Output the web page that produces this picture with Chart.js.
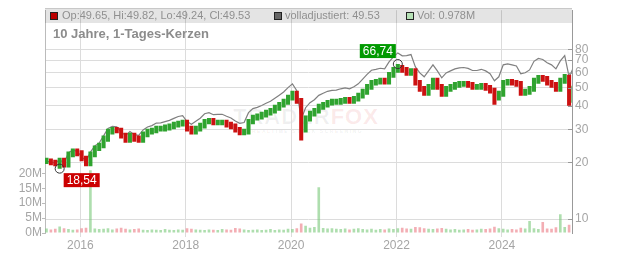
<!DOCTYPE html>
<html><head><meta charset="utf-8">
<script src="https://cdn.jsdelivr.net/npm/chart.js@4.4.1/dist/chart.umd.min.js"></script>
<style>
html,body{margin:0;padding:0;background:#fff;}
#wrap{position:relative;width:632px;height:253px;overflow:hidden;font-family:"Liberation Sans",Arial,sans-serif;background:#fff;}
canvas{position:absolute;left:0;top:0;}
.band{position:absolute;left:45px;top:8px;width:527px;height:15px;background:rgba(0,0,0,0.105);border-top:1px solid #c8c8c8;box-sizing:border-box;}
.lg{position:absolute;top:9px;font-size:11px;line-height:13px;color:#8f8f8f;white-space:nowrap;}
.sq{position:absolute;top:12px;width:8px;height:8px;box-sizing:border-box;border:1px solid #222;}
.title{position:absolute;left:53px;top:26px;font-size:13px;line-height:15px;font-weight:bold;color:#8c8c8c;white-space:nowrap;}
.wm{position:absolute;left:233px;top:104px;font-size:22px;font-weight:bold;letter-spacing:1px;white-space:nowrap;color:rgba(0,0,0,0.06);}
.wm span{color:rgba(220,40,40,0.10);}
.wm2{position:absolute;left:252px;top:128px;font-size:5px;font-weight:bold;letter-spacing:1.5px;white-space:nowrap;color:rgba(0,0,0,0.08);}
</style></head>
<body>
<div id="wrap">
  <div class="wm">TRADER<span>FOX</span></div>
  <div class="wm2">REALTIME STOCK SCREENING</div>
  <canvas id="c" width="632" height="253"></canvas>
  <div class="band"></div>
  <div class="sq" style="left:50px;background:#bb0000;"></div>
  <div class="lg" style="left:62px;">Op:49.65, Hi:49.82, Lo:49.24, Cl:49.53</div>
  <div class="sq" style="left:274px;background:#666;"></div>
  <div class="lg" style="left:285px;">volladjustiert: 49.53</div>
  <div class="sq" style="left:406px;background:#b5e0b5;"></div>
  <div class="lg" style="left:417px;">Vol: 0.978M</div>
  <div class="title">10 Jahre, 1-Tages-Kerzen</div>
</div>
<script>
// monthly series, first month May 2015
const firstYear = 2015, firstMonth = 5;
const closes = [20.3,20.0,19.8,20.5,19.5,22.1,22.9,22.4,21.0,19.8,22.1,23.8,24.6,26.8,29.2,29.9,29.6,27.8,26.5,27.8,
26.8,26.5,28.2,29.2,29.6,30.3,30.3,30.7,31.1,31.8,32.2,32.6,30.3,29.2,30.3,31.4,33.0,33.4,32.6,32.6,
32.6,31.8,31.1,29.9,28.9,29.2,33.0,34.6,35.1,35.9,36.8,37.7,39.1,40.6,42.1,44.2,46.4,42.6,29.9,34.2,
36.4,37.7,39.6,40.6,41.6,42.1,42.1,42.6,43.1,42.6,43.7,45.3,47.6,50.5,53.1,53.7,54.4,53.7,58.5,62.2,
65.3,62.2,60.0,61.4,53.1,49.3,47.0,50.5,54.4,50.5,46.4,49.3,50.5,51.8,52.4,52.4,51.8,50.5,50.5,51.2,
49.9,48.2,44.2,46.4,53.1,53.7,53.1,52.4,47.0,47.6,49.3,54.4,56.4,55.7,53.1,51.8,49.3,54.4,57.1,42.6,49.5];
const lows = [19.6,19.3,19.1,18.54,18.8,18.8,21.3,21.6,20.3,19.1,
19.1,21.3,23.0,23.8,25.8,28.2,28.6,26.8,25.5,25.5,
25.8,25.5,25.5,27.2,28.2,28.6,29.2,29.2,29.6,30.0,
30.7,31.1,29.2,28.2,28.2,29.2,30.3,31.9,31.5,31.5,
31.5,30.7,30.0,28.9,27.9,27.9,28.2,31.9,33.4,33.9,
34.7,35.5,36.4,37.7,39.2,40.6,42.7,41.1,26.2,28.9,
33.0,35.1,36.4,38.2,39.2,40.2,40.6,40.6,41.1,41.1,
41.1,42.2,43.8,45.9,48.7,51.3,51.9,51.9,51.9,56.4,
60.0,60.0,57.9,57.9,51.3,47.6,45.3,45.3,48.7,48.7,
44.7,44.7,47.6,48.7,50.0,50.6,50.0,48.7,48.7,48.7,
48.2,46.5,40.5,42.7,44.7,51.3,51.3,50.6,45.3,45.3,
45.9,47.6,52.5,53.8,51.3,50.0,47.6,47.6,52.5,40.0,41.6];
const highs = [21.2,21.0,20.7,21.2,21.2,22.9,23.7,23.7,23.2,21.7,
22.9,24.6,25.5,27.8,30.2,30.9,30.9,30.6,28.8,28.8,
28.8,27.8,29.2,30.2,30.6,31.4,31.4,31.8,32.2,32.9,
33.3,33.7,33.7,31.4,31.4,32.5,34.1,34.5,34.5,33.7,
33.7,33.7,32.9,32.2,30.9,30.2,34.1,35.9,36.4,37.2,
38.1,39.0,40.5,42.0,43.6,45.8,48.1,48.1,44.1,35.5,
37.7,39.0,41.0,42.0,43.0,43.6,43.6,44.1,44.6,44.6,
45.2,46.9,49.3,52.3,54.9,55.6,56.4,56.4,60.6,64.4,
66.74,66.0,64.4,63.5,63.5,54.9,51.0,52.3,56.4,56.4,
52.3,51.0,52.3,53.6,54.2,54.2,54.2,53.6,52.3,53.0,
53.0,51.6,49.9,48.1,54.9,55.6,55.6,54.9,54.2,49.3,
51.0,56.4,58.4,58.4,57.7,54.9,53.6,56.4,59.1,58.6,51.2];
const adjusted = [20.3,20.1,19.9,20.7,19.8,22.5,23.3,22.9,21.5,20.3,22.7,24.5,25.4,27.7,30.3,31.1,30.9,29.1,27.8,29.2,
28.1,27.9,29.8,30.9,31.4,32.4,32.5,33.0,33.5,34.3,35.1,35.5,33.0,31.9,33.1,34.4,36.3,36.8,35.9,36.0,
36.1,35.2,34.5,33.2,32.3,32.6,36.8,38.7,39.3,40.2,41.3,42.3,43.9,45.6,47.4,50.0,52.4,48.2,34.0,39.1,
41.6,43.1,45.5,46.7,47.8,48.4,48.5,49.3,49.9,49.3,50.6,52.4,55.5,58.8,61.9,62.6,63.4,62.9,68.6,72.9,
76.5,73.8,74.0,75.0,64.5,59.9,57.1,61.4,66.1,61.4,56.4,59.9,61.4,62.9,63.7,64.0,63.3,61.7,61.7,62.6,
61.4,59.3,54.4,57.1,66.1,66.9,66.1,65.2,59.2,60.0,62.1,69.0,71.5,70.6,67.8,66.1,62.9,69.4,74.0,57.0,64.0];
const volumes = [1.5,1.2,1.4,2.2,1.6,1.3,1.1,1.2,1.6,1.8,21.0,1.5,1.3,1.4,1.6,1.2,1.5,1.8,1.4,1.2,
1.3,1.5,1.1,1.0,1.2,1.1,1.0,1.3,1.1,1.0,1.2,1.1,1.6,1.4,1.2,1.1,1.0,1.2,1.1,1.0,
1.3,1.2,1.1,1.7,1.5,1.2,1.0,1.1,1.2,1.0,1.1,1.3,1.0,1.2,1.1,1.4,1.3,1.6,3.2,2.4,
1.8,2.0,15.3,1.7,1.5,1.6,1.4,1.3,1.5,1.2,1.4,1.6,1.3,1.2,1.4,1.1,1.3,1.2,1.5,1.3,
1.6,1.8,1.5,1.4,2.0,1.9,1.6,1.4,1.3,1.5,1.7,1.4,1.2,1.3,1.1,1.2,1.3,1.1,1.2,1.4,
1.3,1.5,2.1,1.6,1.4,1.2,1.3,1.2,1.8,1.5,4.0,1.6,1.3,3.7,1.5,1.4,1.9,6.3,2.0,2.8,2.5];
const priceTicks = [10,20,30,40,50,60,70,80];
const volTicks = [0,5,10,15,20];
const yearTicks = [2016,2018,2020,2022,2024];

const times = closes.map((_, i) => {
  const m = firstMonth - 1 + i;
  return firstYear + Math.floor(m / 12) + ((m % 12) + 0.3) / 12;
});
const up = closes.map((c, i) => i === 0 ? true : c >= closes[i - 1]);

const annotatePlugin = {
  id: 'annot',
  afterDatasetsDraw(chart) {
    const ctx = chart.ctx, xs = chart.scales.x, ys = chart.scales.yPrice, area = chart.chartArea;
    ctx.save();
    ctx.strokeStyle = '#999'; ctx.lineWidth = 1;
    priceTicks.forEach(v => {
      const y = Math.round(ys.getPixelForValue(v)) + 0.5;
      ctx.beginPath(); ctx.moveTo(area.right - 4, y); ctx.lineTo(area.right, y); ctx.stroke();
    });
    let iMax = 0, iMin = 0;
    highs.forEach((h, i) => { if (h > highs[iMax]) iMax = i; });
    lows.forEach((l, i) => { if (l < lows[iMin]) iMin = i; });
    ctx.font = '12px "Liberation Sans", Arial, sans-serif';
    ctx.textBaseline = 'middle'; ctx.textAlign = 'center';
    const draw = (i, val, color, below) => {
      const px = xs.getPixelForValue(times[i]), py = ys.getPixelForValue(val);
      const label = val.toFixed(2).replace('.', ',');
      const w = ctx.measureText(label).width + 6, h = 14;
      let bx, by;
      if (below) { bx = px + 4; by = py + 4.5; } else { bx = px - 2 - w; by = py - 20; }
      ctx.fillStyle = color; ctx.fillRect(bx, by, w, h);
      ctx.fillStyle = '#fff'; ctx.fillText(label, bx + w / 2, by + h / 2 + 0.5);
      ctx.beginPath(); ctx.arc(px, py, 4.5, 0, Math.PI * 2);
      ctx.strokeStyle = '#333'; ctx.lineWidth = 1; ctx.stroke();
    };
    draw(iMax, highs[iMax], '#009a00', false);
    draw(iMin, lows[iMin], '#cc0000', true);
    ctx.restore();
  }
};

Chart.defaults.font.family = '"Liberation Sans", Arial, sans-serif';
new Chart(document.getElementById('c'), {
  type: 'bar',
  data: {
    datasets: [
      {
        type: 'bar', label: 'Kerzen', yAxisID: 'yPrice', order: 1, grouped: false,
        data: times.map((t, i) => ({ x: t, y: [lows[i], highs[i]] })),
        backgroundColor: up.map(u => u ? '#2fa32f' : '#cc1111'),
        barPercentage: 1, categoryPercentage: 0.92
      },
      {
        type: 'line', label: 'volladjustiert', yAxisID: 'yPrice', order: 2,
        data: times.map((t, i) => ({ x: t, y: adjusted[i] })),
        borderColor: '#808080', borderWidth: 1.2, pointRadius: 0, tension: 0, fill: false
      },
      {
        type: 'bar', label: 'Vol', yAxisID: 'yVol', order: 3, grouped: false,
        data: times.map((t, i) => ({ x: t, y: volumes[i] })),
        backgroundColor: up.map(u => u ? 'rgba(120,200,120,0.6)' : 'rgba(235,120,130,0.6)'),
        barPercentage: 1, categoryPercentage: 0.6
      }
    ]
  },
  options: {
    responsive: false, animation: false, devicePixelRatio: 1,
    layout: { padding: { top: 9, left: 0, right: 0, bottom: 0 } },
    plugins: { legend: { display: false }, tooltip: { enabled: false } },
    scales: {
      x: {
        type: 'linear', min: 2015.33, max: 2025.33, offset: false,
        grid: { offset: false, color: '#dcdcdc', tickLength: 4 },
        border: { display: false },
        afterBuildTicks: s => { s.ticks = yearTicks.map(v => ({ value: v })); },
        ticks: { callback: v => String(v), color: '#a5a5a5', font: { size: 12 }, padding: 1, maxRotation: 0, autoSkip: false },
        afterFit: s => { s.height = 20; }
      },
      yPrice: {
        type: 'logarithmic', position: 'right', min: 8.43, max: 129.1,
        grid: { color: '#dcdcdc', drawTicks: false },
        border: { color: '#999' },
        afterBuildTicks: s => { s.ticks = priceTicks.map(v => ({ value: v })); },
        ticks: { callback: v => String(v), color: '#a5a5a5', font: { size: 12 }, padding: 3, autoSkip: false },
        afterFit: s => { s.width = 60; }
      },
      yVol: {
        type: 'linear', position: 'left', min: 0, max: 74.67,
        grid: { drawOnChartArea: false, tickLength: 3, color: '#bbb' },
        border: { color: '#bbb' },
        afterBuildTicks: s => { s.ticks = volTicks.map(v => ({ value: v })); },
        ticks: { callback: v => v + 'M', color: '#a5a5a5', font: { size: 12 }, padding: 0, autoSkip: false },
        afterFit: s => { s.width = 45; }
      }
    }
  },
  plugins: [annotatePlugin]
});
</script>
</body></html>
